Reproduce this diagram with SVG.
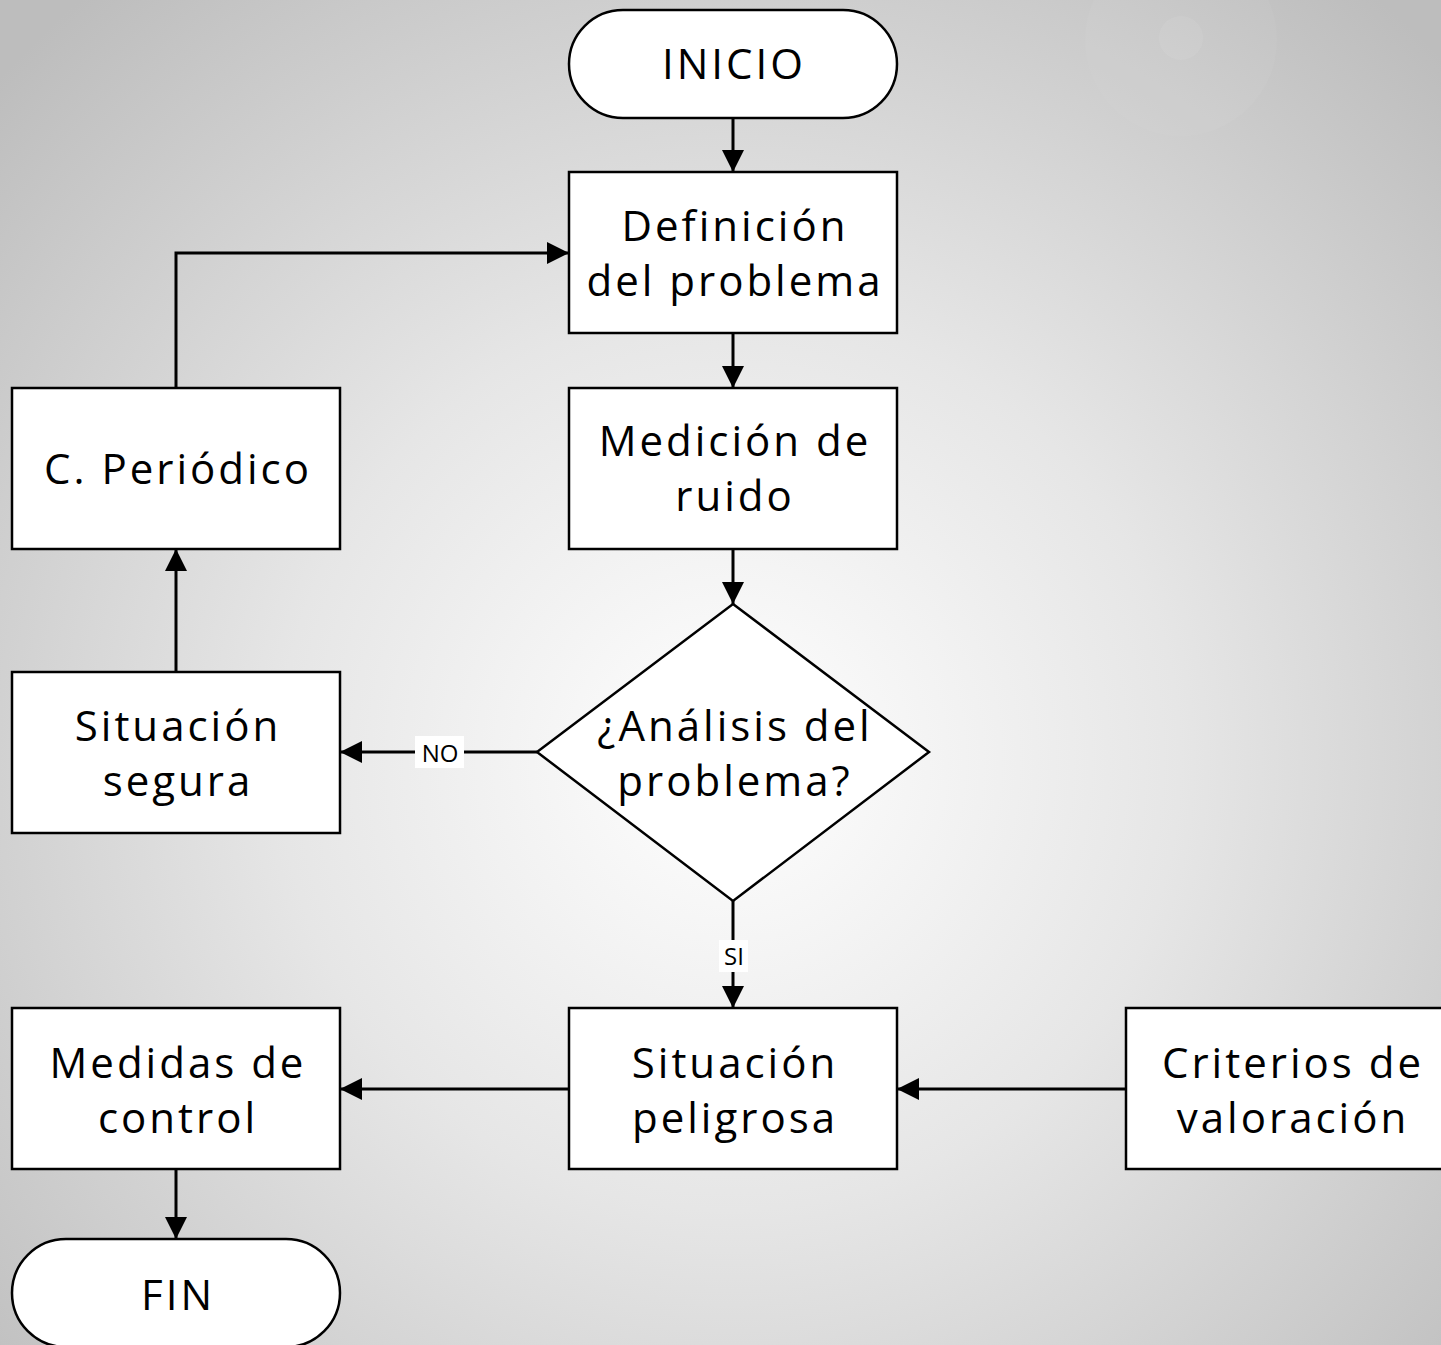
<svg xmlns="http://www.w3.org/2000/svg" width="1441" height="1345" viewBox="0 0 1441 1345">
<defs>
<radialGradient id="bg" cx="730" cy="760" r="1000" gradientUnits="userSpaceOnUse">
<stop offset="0" stop-color="#ffffff"/>
<stop offset="0.45" stop-color="#e6e6e6"/>
<stop offset="1" stop-color="#bdbdbd"/>
</radialGradient>
<marker id="ah" viewBox="0 0 22 22" refX="22" refY="11" markerWidth="22" markerHeight="22" markerUnits="userSpaceOnUse" orient="auto">
<path d="M0,0 L22,11 L0,22 Z" fill="#000"/>
</marker>
</defs>
<style>
.box{fill:#fff;stroke:#000;stroke-width:2.5}
.t{font-family:"Open Sans","Noto Sans","DejaVu Sans",sans-serif;font-size:42px;letter-spacing:3px;text-anchor:middle;fill:#000}
.c{fill:none;stroke:#000;stroke-width:3}
.lbl{font-family:"Open Sans","Noto Sans","DejaVu Sans",sans-serif;font-size:24px;text-anchor:middle;fill:#000}
</style>
<rect x="0" y="0" width="1441" height="1345" fill="url(#bg)"/>
<circle cx="1181" cy="40" r="96" fill="#ffffff" opacity="0.04"/>
<circle cx="1181" cy="38" r="22" fill="#ffffff" opacity="0.07"/>

<g id="connectors">
<line class="c" x1="733" y1="118" x2="733" y2="172" marker-end="url(#ah)"/>
<line class="c" x1="733" y1="333" x2="733" y2="388" marker-end="url(#ah)"/>
<line class="c" x1="733" y1="549" x2="733" y2="604" marker-end="url(#ah)"/>
<line class="c" x1="537" y1="752" x2="340" y2="752" marker-end="url(#ah)"/>
<line class="c" x1="733" y1="901" x2="733" y2="1008" marker-end="url(#ah)"/>
<line class="c" x1="176" y1="672" x2="176" y2="549" marker-end="url(#ah)"/>
<polyline class="c" points="176,388 176,253 569,253" marker-end="url(#ah)"/>
<line class="c" x1="569" y1="1089" x2="340" y2="1089" marker-end="url(#ah)"/>
<line class="c" x1="1126" y1="1089" x2="897" y2="1089" marker-end="url(#ah)"/>
<line class="c" x1="176" y1="1169" x2="176" y2="1239" marker-end="url(#ah)"/>
<rect x="415" y="736" width="49" height="32" fill="#fff"/>
<text class="lbl" x="440" y="762">NO</text>
<rect x="719" y="940" width="29" height="32" fill="#fff"/>
<text class="lbl" x="734" y="965">SI</text>
</g>

<g id="inicio">
<rect class="box" x="569" y="10" width="328" height="108" rx="54" ry="54"/>
<text class="t" x="734" y="79">INICIO</text>
</g>
<g id="definicion">
<rect class="box" x="569" y="172" width="328" height="161"/>
<text class="t" x="735" y="241">Definición</text>
<text class="t" x="735" y="296">del problema</text>
</g>
<g id="medicion">
<rect class="box" x="569" y="388" width="328" height="161"/>
<text class="t" x="735" y="456">Medición de</text>
<text class="t" x="735" y="511">ruido</text>
</g>
<g id="analisis">
<polygon class="box" points="733,604 929,752 733,901 537,752"/>
<text class="t" x="735" y="741">¿Análisis del</text>
<text class="t" x="735" y="796">problema?</text>
</g>
<g id="periodico">
<rect class="box" x="12" y="388" width="328" height="161"/>
<text class="t" x="178" y="484">C. Periódico</text>
</g>
<g id="segura">
<rect class="box" x="12" y="672" width="328" height="161"/>
<text class="t" x="178" y="741">Situación</text>
<text class="t" x="178" y="796">segura</text>
</g>
<g id="medidas">
<rect class="box" x="12" y="1008" width="328" height="161"/>
<text class="t" x="178" y="1078">Medidas de</text>
<text class="t" x="178" y="1133">control</text>
</g>
<g id="peligrosa">
<rect class="box" x="569" y="1008" width="328" height="161"/>
<text class="t" x="735" y="1078">Situación</text>
<text class="t" x="735" y="1133">peligrosa</text>
</g>
<g id="criterios">
<rect class="box" x="1126" y="1008" width="330" height="161"/>
<text class="t" x="1293" y="1078">Criterios de</text>
<text class="t" x="1293" y="1133">valoración</text>
</g>
<g id="fin">
<rect class="box" x="12" y="1239" width="328" height="108" rx="54" ry="54"/>
<text class="t" x="178" y="1310">FIN</text>
</g>
</svg>
